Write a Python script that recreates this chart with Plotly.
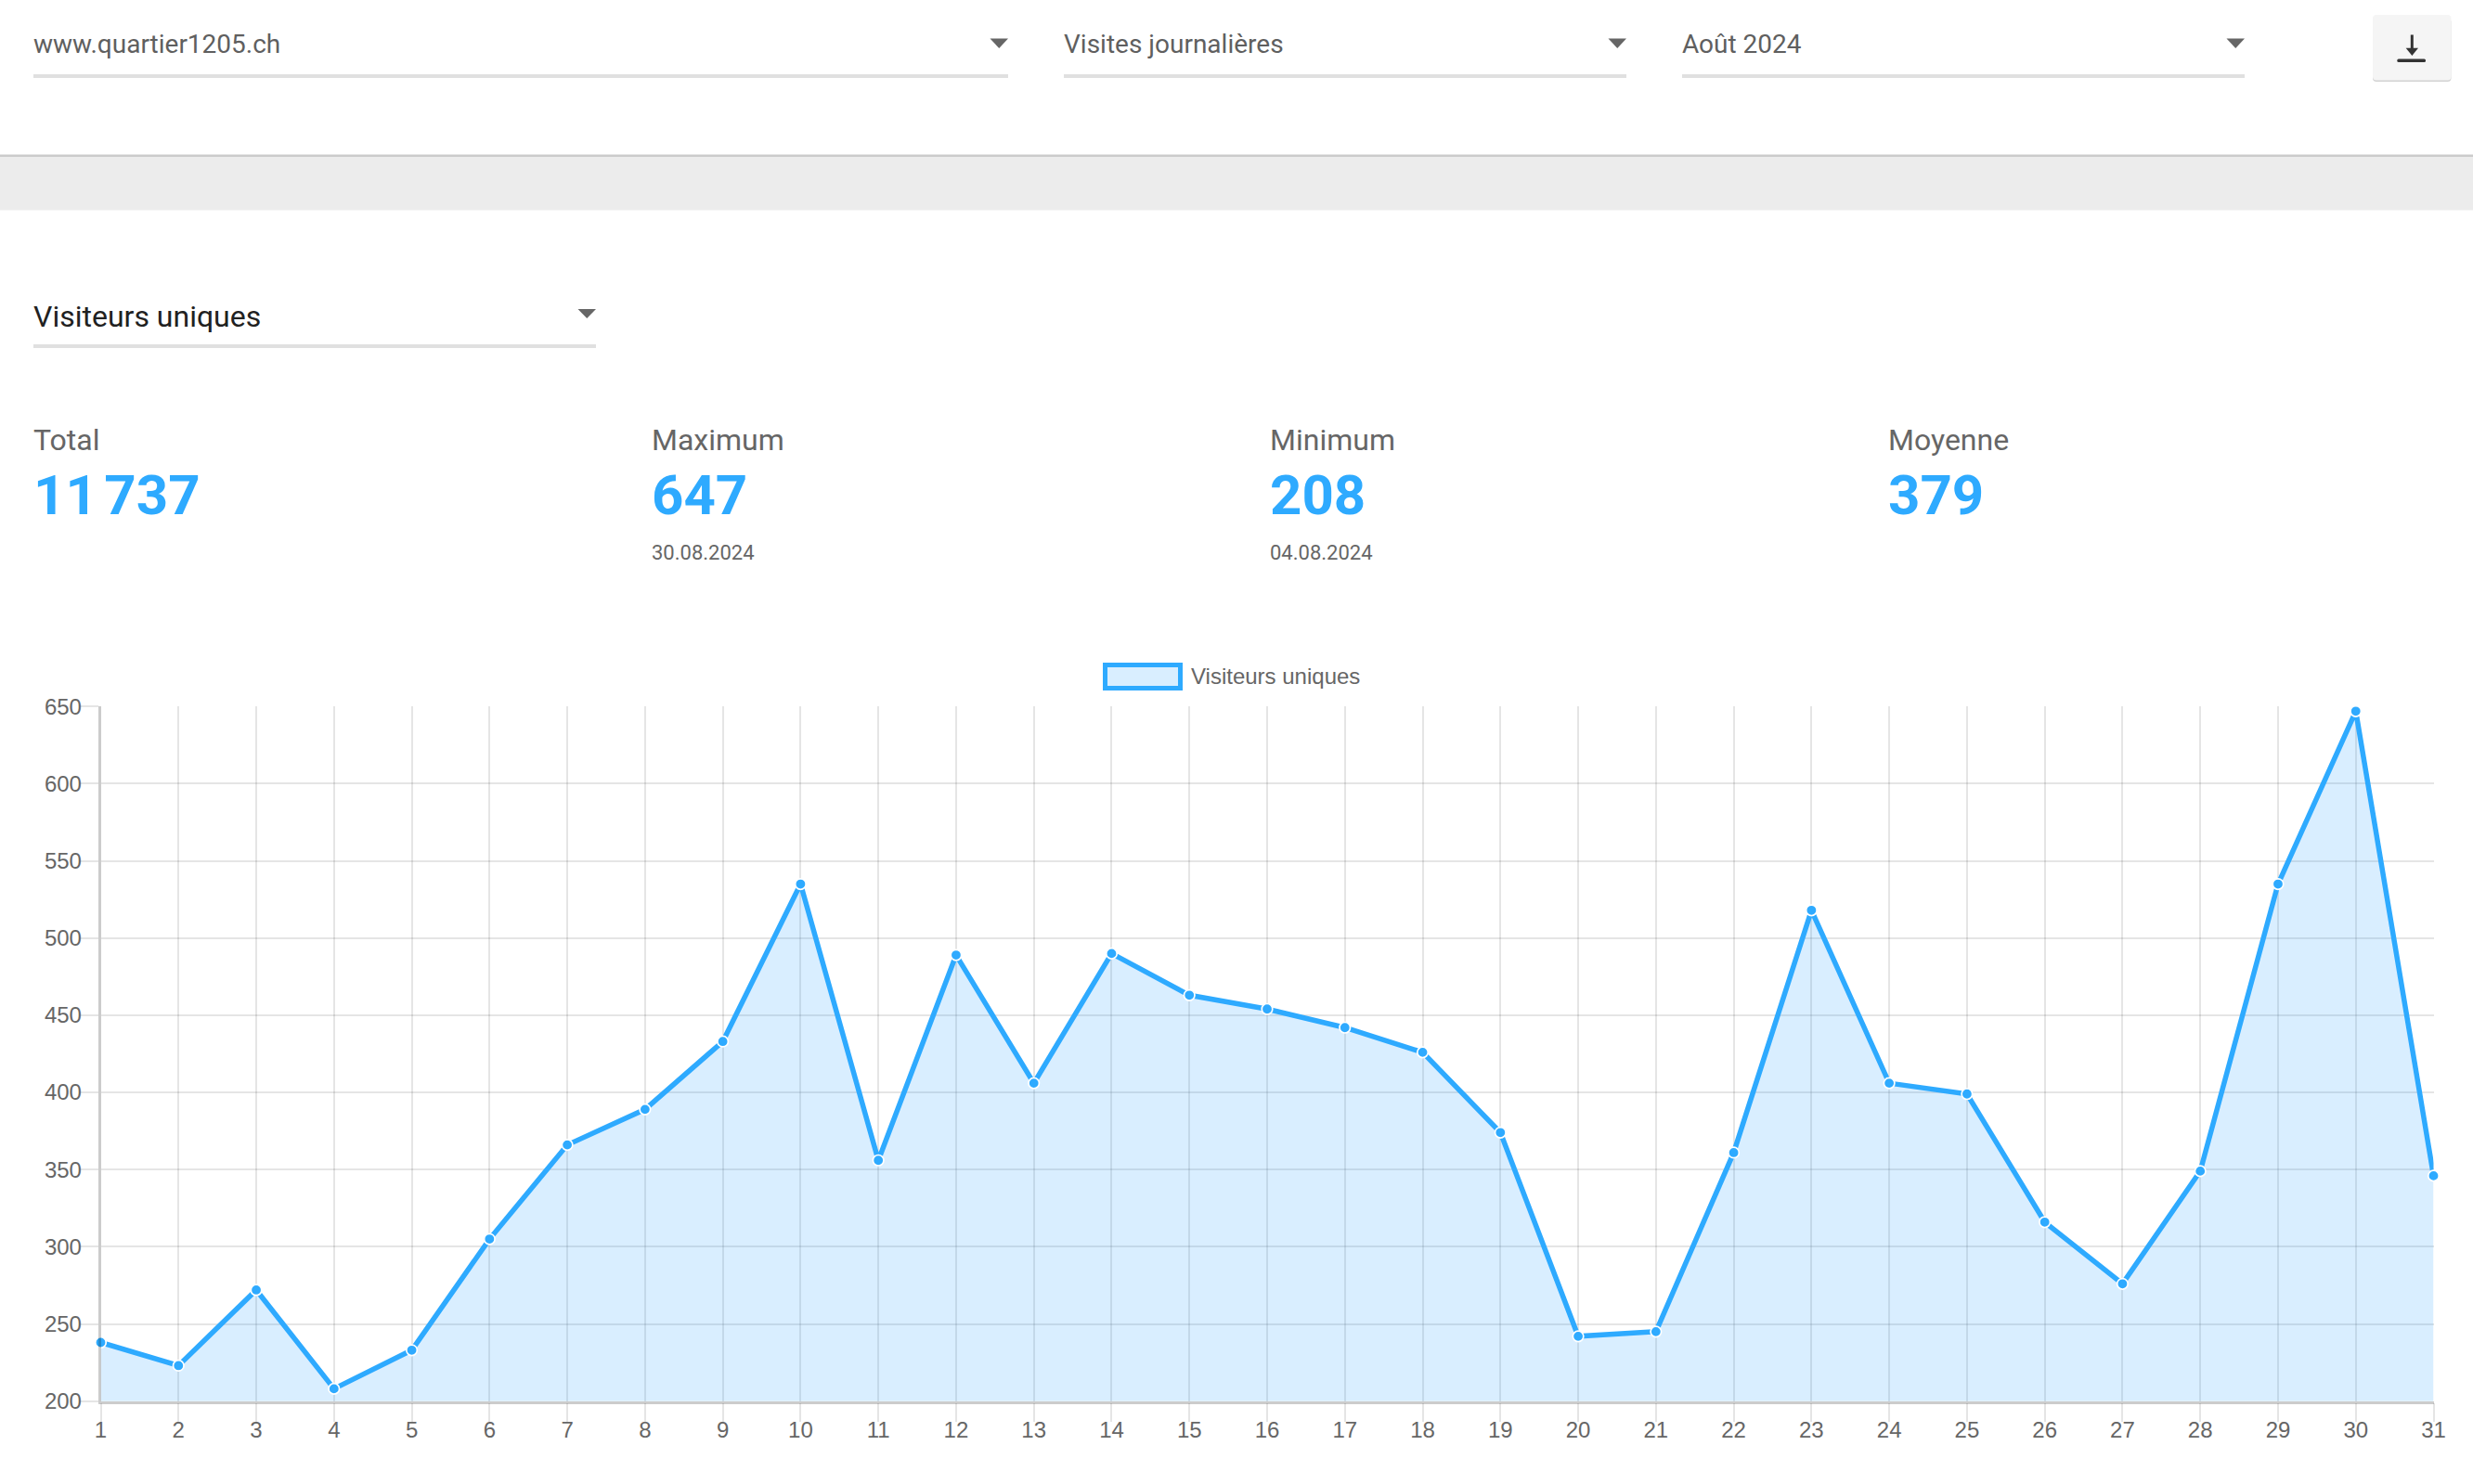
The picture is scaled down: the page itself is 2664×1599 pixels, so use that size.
import plotly.graph_objs as go

W, H = 2664, 1599

days = list(range(1, 32))
visiteurs = [238, 223, 272, 208, 233, 305, 366, 389, 433, 535, 356, 489, 406, 490, 463, 454,
             442, 426, 374, 242, 245, 361, 518, 406, 399, 316, 276, 349, 535, 647, 346]
y_ticks = [200, 250, 300, 350, 400, 450, 500, 550, 600, 650]

series_name = "Visiteurs uniques"
select_labels = ["www.quartier1205.ch", "Visites journalières", "Août 2024"]
stat_labels = ["Total", "Maximum", "Minimum", "Moyenne"]
stat_values = ["11\u202f737", "647", "208", "379"]
stat_dates = ["", "30.08.2024", "04.08.2024", ""]

BLUE = "#2EAAFF"
FILL = "rgba(46,160,255,0.18)"
GREY_TEXT = "#666666"
GRID = "rgba(0,0,0,0.1)"
AXIS = "rgba(0,0,0,0.2)"


def px(x):
    return x / W


def py(y):
    return 1 - y / H


def rect(x0, y0, x1, y1, color, line=None):
    return dict(type="rect", xref="paper", yref="paper", x0=px(x0), x1=px(x1), y0=py(y0), y1=py(y1),
                fillcolor=color, line=line or dict(width=0), layer="below")


def triangle(x0, x1, y0, y1, color=GREY_TEXT):
    xm = (x0 + x1) / 2
    path = f"M {px(x0)},{py(y0)} L {px(x1)},{py(y0)} L {px(xm)},{py(y1)} Z"
    return dict(type="path", xref="paper", yref="paper", path=path, fillcolor=color,
                line=dict(width=0), layer="below")


def round_rect(x0, y0, x1, y1, r, color):
    path = (f"M {px(x0 + r)},{py(y0)} L {px(x1 - r)},{py(y0)} Q {px(x1)},{py(y0)} {px(x1)},{py(y0 + r)} "
            f"L {px(x1)},{py(y1 - r)} Q {px(x1)},{py(y1)} {px(x1 - r)},{py(y1)} L {px(x0 + r)},{py(y1)} "
            f"Q {px(x0)},{py(y1)} {px(x0)},{py(y1 - r)} L {px(x0)},{py(y0 + r)} Q {px(x0)},{py(y0)} {px(x0 + r)},{py(y0)} Z")
    return dict(type="path", xref="paper", yref="paper", path=path, fillcolor=color,
                line=dict(width=0), layer="below")


def label(text, x, y, size, color=GREY_TEXT, font="Roboto", weight=None):
    return dict(text=text, xref="paper", yref="paper", x=px(x), y=py(y), xanchor="left", yanchor="middle",
                showarrow=False, borderpad=0, borderwidth=0,
                font=dict(family=font, size=size, color=color, weight=weight))


fig = go.Figure(
    data=go.Scatter(
        x=days,
        y=visiteurs,
        name=series_name,
        mode="lines+markers",
        fill="tozeroy",
        fillcolor=FILL,
        line=dict(color=BLUE, width=5.5),
        marker=dict(color=BLUE, size=11.5, line=dict(color="white", width=1.7)),
        cliponaxis=False,
    )
)

shapes = []
annotations = []

# header band
shapes.append(rect(0, 166.5, W, 169.5, "#CBCBCB"))
shapes.append(rect(0, 169, W, 226.5, "#ECECEC"))

# top selects
select_spans = [(36, 1086), (1146, 1752), (1812, 2418)]
for text, (x0, x1) in zip(select_labels, select_spans):
    shapes.append(rect(x0, 80, x1, 84, "#E0E0E0"))
    shapes.append(triangle(x1 - 19.5, x1, 41.5, 52))
    annotations.append(label(text, x0, 47.5, 28, "#5F5F5F"))

# metric select
shapes.append(rect(36, 371, 642, 375, "#E0E0E0"))
shapes.append(triangle(622.5, 642, 333, 343))
annotations.append(label(series_name, 36, 341, 32, "#212121"))

# download button
shapes.append(round_rect(2556, 20, 2640.5, 88, 4, "#D2D2D2"))
shapes.append(round_rect(2556, 16, 2640.5, 86.5, 4, "#F5F5F5"))
shapes.append(rect(2596.8, 37.5, 2599.8, 53, "#333333"))
shapes.append(round_rect(2582.3, 63.5, 2613, 67, 1.5, "#333333"))
shapes.append(triangle(2591.7, 2605, 51.7, 60, "#333333"))

# stats row
stat_x = [36, 702, 1368, 2034]
for name, value, date, x in zip(stat_labels, stat_values, stat_dates, stat_x):
    annotations.append(label(name, x, 474, 32))
    annotations.append(label(value, x, 533.5, 60, BLUE, weight=700))
    if date:
        annotations.append(label(date, x, 595, 22))

# legend
shapes.append(rect(1190.5, 716.5, 1271.5, 741.5, FILL, dict(color=BLUE, width=5)))
annotations.append(label(series_name, 1283, 728.5, 24, font="Liberation Sans"))

fig.update_layout(
    width=W,
    height=H,
    margin=dict(l=0, r=0, t=0, b=0),
    paper_bgcolor="white",
    plot_bgcolor="white",
    showlegend=False,
    shapes=shapes,
    annotations=annotations,
    font=dict(family="Liberation Sans", size=24, color=GREY_TEXT),
    xaxis=dict(
        domain=[px(108.5), px(2621.5)],
        range=[1, 31],
        tickmode="array",
        tickvals=days,
        automargin=False,
        showgrid=True,
        gridcolor=GRID,
        gridwidth=2,
        zeroline=False,
        showline=True,
        linecolor=AXIS,
        linewidth=2.5,
        ticks="outside",
        ticklen=20,
        tickwidth=2,
        tickcolor=GRID,
        ticklabelstandoff=-12,
    ),
    yaxis=dict(
        domain=[py(1509.7), py(761.3)],
        range=[200, 650],
        tickmode="array",
        tickvals=y_ticks,
        automargin=False,
        showgrid=True,
        gridcolor=GRID,
        gridwidth=2,
        zeroline=False,
        showline=True,
        linecolor=AXIS,
        linewidth=2.5,
        ticks="outside",
        ticklen=20,
        tickwidth=2,
        tickcolor=GRID,
        ticklabelstandoff=-7,
    ),
)

fig.write_html("out.html", config=dict(displayModeBar=False), post_script="document.body.style.margin='0';")
